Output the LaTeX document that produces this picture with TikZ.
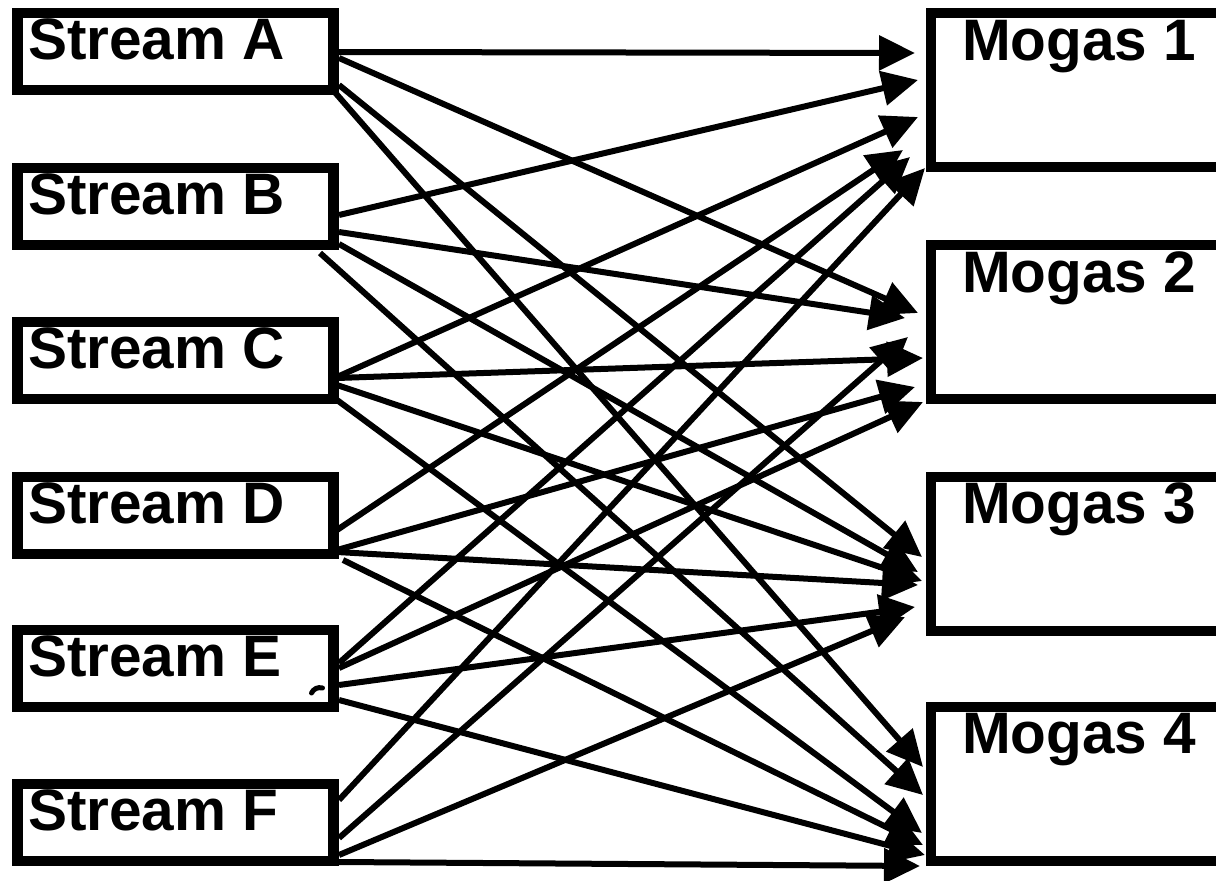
\documentclass[tikz,border=0pt]{standalone}
\usepackage{fontspec}
\setmainfont{Liberation Sans}
\usetikzlibrary{arrows.meta,calc}
\begin{document}
\begin{tikzpicture}[x=1pt,y=-1pt,
  box/.style={draw,line width=10.5pt,inner sep=0pt,outer sep=0pt},
  sbox/.style={box,minimum width=316pt,minimum height=77pt},
  mbox/.style={box,minimum width=329pt,minimum height=154pt},
  lbl/.style={anchor=base west,inner sep=0pt,font=\fontsize{58.5}{62}\selectfont\bfseries},
  arr/.style={line width=6pt,-{Triangle[length=36pt,width=34pt]}}]
\useasboundingbox (0,0) rectangle (1216,881);
\clip (0,0) rectangle (1216,881);
% stream boxes
\node[sbox] (A) at (175.5,51.5) {};
\node[sbox] (B) at (175.5,206.5) {};
\node[sbox] (C) at (175.5,360.5) {};
\node[sbox] (D) at (175.5,515.5) {};
\node[sbox] (E) at (175.5,668.5) {};
\node[sbox] (F) at (175.5,822.5) {};
% mogas boxes
\node[mbox] (M1) at (1095.5,90) {};
\node[mbox] (M2) at (1095.5,322) {};
\node[mbox] (M3) at (1095.5,554) {};
\node[mbox] (M4) at (1095.5,784) {};
% labels
\node[lbl] (tA) at (28,59) {Stream A};
\node[lbl] (tB) at (28,214) {Stream B};
\node[lbl] (tC) at (28,368) {Stream C};
\node[lbl] (tD) at (28,523) {Stream D};
\node[lbl] (tE) at (28,676) {Stream E};
\node[lbl] (tF) at (28,830) {Stream F};
\node[lbl] (t1) at (962,60) {Mogas 1};
\node[lbl] (t2) at (962,292) {Mogas 2};
\node[lbl] (t3) at (962,523) {Mogas 3};
\node[lbl] (t4) at (962,753) {Mogas 4};
% small stray mark on Stream E
\draw[line width=5pt,line cap=round] ($(E.north east)+(-22,63)$) to[bend left=40] ($(E.north east)+(-11,58)$);
% Stream A
\draw[arr] ($(A.north east)+(5.5,39)$) -- ($(M1.north west)+(-16,40)$);
\draw[arr] ($(A.north east)+(5.5,45)$) -- ($(M2.north west)+(-13,68)$);
\draw[arr] ($(A.north east)+(5.5,72)$) -- ($(M3.north west)+(-9,80)$);
\draw[arr] ($(A.north east)+(2,80)$) -- ($(M4.north west)+(-8,60)$);
% Stream B
\draw[arr] ($(B.north east)+(5.5,47)$) -- ($(M1.north west)+(-13,67)$);
\draw[arr] ($(B.north east)+(5.5,64)$) -- ($(M2.north west)+(-26,73)$);
\draw[arr] ($(B.north east)+(5.5,76)$) -- ($(M3.north west)+(-13,95)$);
\draw[arr] ($(B.north east)+(-13.5,85)$) -- ($(M4.north west)+(-8,88)$);
% Stream C
\draw[arr] ($(C.north east)+(3.5,55)$) -- ($(M1.north west)+(-13,104)$);
\draw[arr] ($(C.north east)+(3.5,56)$) -- ($(M2.north west)+(-8,113)$);
\draw[arr] ($(C.north east)+(3.5,63)$) -- ($(M3.north west)+(-9,104)$);
\draw[arr] ($(C.north east)+(3.5,78)$) -- ($(M4.north west)+(-9,126)$);
% Stream D
\draw[arr] ($(D.north east)+(3.5,53)$) -- ($(M1.north west)+(-28,137)$);
\draw[arr] ($(D.north east)+(3.5,73)$) -- ($(M2.north west)+(-16,142)$);
\draw[arr] ($(D.north east)+(3.5,75)$) -- ($(M3.north west)+(-13,108)$);
\draw[arr] ($(D.north east)+(9.5,83)$) -- ($(M4.north west)+(-8,138)$);
% Stream E
\draw[arr] ($(E.north east)+(5.5,33)$) -- ($(M1.north west)+(-21,144)$);
\draw[arr] ($(E.north east)+(5.5,38)$) -- ($(M2.north west)+(-8,157)$);
\draw[arr] ($(E.north east)+(5.5,55)$) -- ($(M3.north west)+(-16,130)$);
\draw[arr] ($(E.north east)+(5.5,70)$) -- ($(M4.north west)+(-6,148)$);
% Stream F
\draw[arr] ($(F.north east)+(5.5,16)$) -- ($(M1.north west)+(-6,155)$);
\draw[arr] ($(F.north east)+(5.5,54)$) -- ($(M2.north west)+(-23,92)$);
\draw[arr] ($(F.north east)+(5.5,71)$) -- ($(M3.north west)+(-26,140)$);
\draw[arr] ($(F.north east)+(5.5,78)$) -- ($(M4.north west)+(-11,159)$);
\end{tikzpicture}
\end{document}
